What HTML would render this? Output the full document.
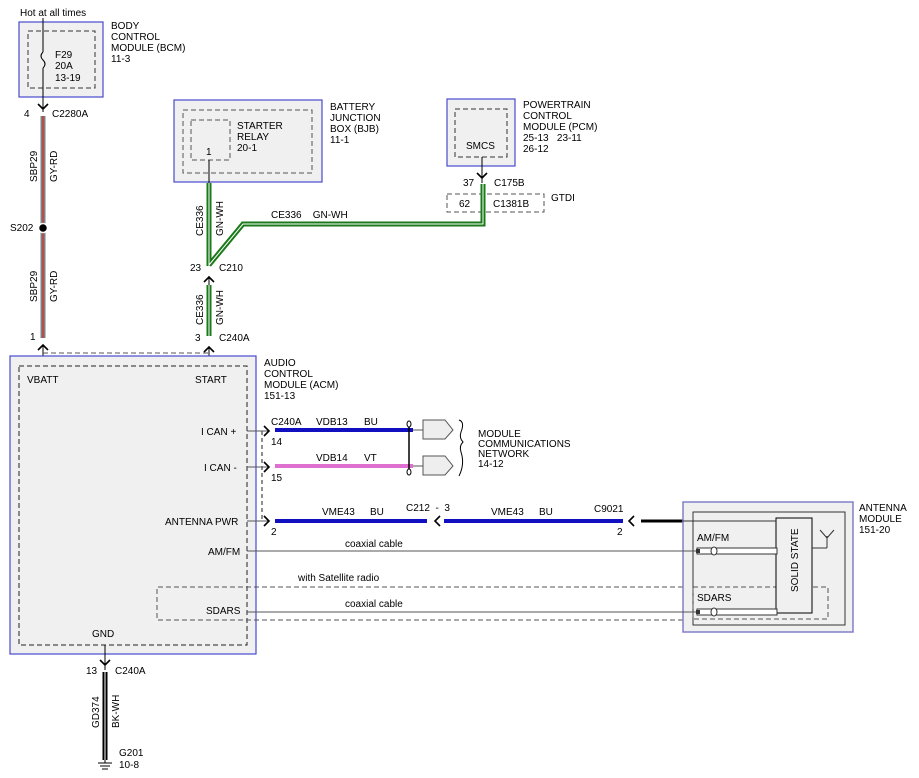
<!DOCTYPE html>
<html><head><meta charset="utf-8"><style>
html,body{margin:0;padding:0;background:#fff;}
svg{display:block;font-family:"Liberation Sans",sans-serif;font-size:10px;}
</style></head><body>
<svg width="919" height="778" viewBox="0 0 919 778" xmlns="http://www.w3.org/2000/svg">
<defs>
<g id="up"><path d="M-5,4 L0,-1 L5,4" fill="none" stroke="#000" stroke-width="1.6"/></g>
<g id="dn"><path d="M-5,-4 L0,1 L5,-4" fill="none" stroke="#000" stroke-width="1.6"/></g>
<g id="rt"><path d="M-4,-5 L1,0 L-4,5" fill="none" stroke="#000" stroke-width="1.6"/></g>
<g id="lt"><path d="M4,-5 L-1,0 L4,5" fill="none" stroke="#000" stroke-width="1.6"/></g>
</defs>

<!-- BCM -->
<text x="20" y="16">Hot at all times</text>
<rect x="19" y="22" width="84" height="75" fill="#f0f0f0" stroke="#4a4ad0" stroke-width="1.2"/>
<rect x="28" y="31" width="67" height="57" fill="none" stroke="#333" stroke-dasharray="5,3"/>
<line x1="43" y1="18" x2="43" y2="52" stroke="#000"/>
<path d="M43,52 q-4,4 0,8 q4,4 0,8" fill="none" stroke="#000"/>
<line x1="43" y1="68" x2="43" y2="112" stroke="#000"/>
<text x="55" y="58">F29</text><text x="55" y="69">20A</text><text x="55" y="81">13-19</text>
<text x="111" y="29">BODY</text><text x="111" y="40">CONTROL</text><text x="111" y="51">MODULE (BCM)</text><text x="111" y="62">11-3</text>
<use href="#dn" x="43" y="108"/>
<text x="24" y="117">4</text><text x="52" y="117">C2280A</text>
<line x1="43" y1="116" x2="43" y2="338" stroke="#808080" stroke-width="5"/>
<line x1="43" y1="116" x2="43" y2="338" stroke="#d03030" stroke-width="1.2"/>
<circle cx="43" cy="228" r="4.5" fill="#000" stroke="#fff" stroke-width="1.5"/>
<text x="10" y="231">S202</text>
<text transform="translate(37,182) rotate(-90)">SBP29</text>
<text transform="translate(57,182) rotate(-90)">GY-RD</text>
<text transform="translate(37,302) rotate(-90)">SBP29</text>
<text transform="translate(57,302) rotate(-90)">GY-RD</text>
<text x="30" y="340">1</text>
<use href="#up" x="43" y="346"/>
<line x1="43" y1="345" x2="43" y2="366" stroke="#000"/>

<!-- BJB -->
<rect x="174" y="100" width="148" height="82" fill="#f0f0f0" stroke="#4a4ad0" stroke-width="1.2"/>
<rect x="183" y="110" width="129" height="63" fill="none" stroke="#555" stroke-dasharray="5,3"/>
<rect x="191" y="120" width="39" height="40" fill="none" stroke="#555" stroke-dasharray="5,3"/>
<text x="237" y="129">STARTER</text><text x="237" y="140">RELAY</text><text x="237" y="151">20-1</text>
<text x="206" y="155">1</text>
<text x="330" y="110">BATTERY</text><text x="330" y="121">JUNCTION</text><text x="330" y="132">BOX (BJB)</text><text x="330" y="143">11-1</text>
<line x1="209" y1="160" x2="209" y2="183" stroke="#000"/>

<!-- PCM -->
<rect x="447" y="99" width="68" height="67" fill="#f0f0f0" stroke="#4a4ad0" stroke-width="1.2"/>
<rect x="455" y="109" width="52" height="48" fill="none" stroke="#333" stroke-dasharray="5,3"/>
<text x="466" y="149">SMCS</text>
<text x="523" y="108">POWERTRAIN</text><text x="523" y="119">CONTROL</text><text x="523" y="130">MODULE (PCM)</text>
<text x="523" y="141">25-13&#160;&#160;&#160;23-11</text><text x="523" y="152">26-12</text>
<line x1="482" y1="157" x2="482" y2="183" stroke="#000"/>
<use href="#dn" x="482" y="177"/>
<text x="463" y="186">37</text><text x="494" y="186">C175B</text>
<rect x="447" y="194" width="97" height="18" fill="none" stroke="#555" stroke-dasharray="5,3"/>
<text x="459" y="207">62</text><text x="493" y="207">C1381B</text><text x="551" y="201">GTDI</text>

<!-- green wires -->
<g fill="none" stroke-linejoin="miter">
<path d="M209,183 L209,266 M209,265 L243,224 L483,224 L483,184" stroke="#1a7a1a" stroke-width="5"/>
<path d="M209,183 L209,266 M209,265 L243,224 L483,224 L483,184" stroke="#fff" stroke-width="1"/>
<path d="M209,285 L209,336" stroke="#1a7a1a" stroke-width="5"/>
<path d="M209,285 L209,336" stroke="#fff" stroke-width="1"/>
</g>
<text x="271" y="218">CE336&#160;&#160;&#160;&#160;GN-WH</text>
<text transform="translate(203,236) rotate(-90)">CE336</text>
<text transform="translate(223,236) rotate(-90)">GN-WH</text>
<text transform="translate(203,325) rotate(-90)">CE336</text>
<text transform="translate(223,325) rotate(-90)">GN-WH</text>
<text x="190" y="271">23</text><text x="219" y="271">C210</text>
<use href="#up" x="209" y="278"/>
<line x1="209" y1="276" x2="209" y2="285" stroke="#000"/>
<text x="195" y="341">3</text><text x="219" y="341">C240A</text>
<use href="#up" x="209" y="348"/>
<line x1="209" y1="347" x2="209" y2="366" stroke="#000"/>
<line x1="43" y1="353" x2="209" y2="353" stroke="#555" stroke-dasharray="5,3"/>

<!-- ACM -->
<rect x="10" y="356" width="246" height="298" fill="#f0f0f0" stroke="#4a4ad0" stroke-width="1.2"/>
<rect x="19" y="366" width="228" height="279" fill="none" stroke="#222" stroke-dasharray="5,3"/>
<text x="27" y="383">VBATT</text><text x="195" y="383">START</text>
<text x="264" y="366">AUDIO</text><text x="264" y="377">CONTROL</text><text x="264" y="388">MODULE (ACM)</text><text x="264" y="399">151-13</text>
<text x="201" y="435">I CAN +</text>
<text x="204" y="471">I CAN -</text>
<text x="165" y="525">ANTENNA PWR</text>
<text x="208" y="555">AM/FM</text>
<text x="206" y="614">SDARS</text>
<text x="92" y="637">GND</text>
<line x1="262" y1="431" x2="262" y2="522" stroke="#222" stroke-dasharray="4,3"/>
<path d="M683,587 L157,587 L157,620 L683,620" fill="none" stroke="#555" stroke-dasharray="5,3"/>
<text x="298" y="581">with Satellite radio</text>

<!-- CAN wires -->
<line x1="247" y1="431" x2="268" y2="431" stroke="#555"/>
<use href="#rt" x="268" y="431"/>
<line x1="275" y1="430" x2="413" y2="430" stroke="#1010c0" stroke-width="4"/>
<text x="271" y="425">C240A</text><text x="316" y="425">VDB13</text><text x="364" y="425">BU</text>
<text x="271" y="445">14</text>
<line x1="247" y1="467" x2="268" y2="467" stroke="#555"/>
<use href="#rt" x="268" y="467"/>
<line x1="275" y1="466" x2="413" y2="466" stroke="#e070d0" stroke-width="4"/>
<text x="316" y="461">VDB14</text><text x="364" y="461">VT</text>
<text x="271" y="481">15</text>
<line x1="409" y1="426" x2="409" y2="471" stroke="#000" stroke-width="1.5"/>
<ellipse cx="409" cy="424" rx="2" ry="3" fill="#fff" stroke="#000"/>
<ellipse cx="409" cy="472" rx="2" ry="3" fill="#fff" stroke="#000"/>
<line x1="413" y1="430" x2="423" y2="430" stroke="#555"/>
<line x1="413" y1="466" x2="423" y2="466" stroke="#555"/>
<path d="M423,420 L445,420 L453,430 L445,439 L423,439 Z" fill="#eee" stroke="#555"/>
<path d="M423,456 L445,456 L453,466 L445,475 L423,475 Z" fill="#eee" stroke="#555"/>
<path d="M459,420 q6,2 2,12 q-2,6 2,10 q-4,4 -2,10 q4,12 -2,24" fill="none" stroke="#000"/>
<text x="478" y="437">MODULE</text><text x="478" y="447">COMMUNICATIONS</text><text x="478" y="457">NETWORK</text><text x="478" y="467">14-12</text>

<!-- antenna pwr -->
<line x1="247" y1="521" x2="268" y2="521" stroke="#555"/>
<use href="#rt" x="268" y="521"/>
<line x1="275" y1="521" x2="427" y2="521" stroke="#1010c0" stroke-width="4"/>
<use href="#lt" x="436" y="521"/>
<line x1="444" y1="521" x2="623" y2="521" stroke="#1010c0" stroke-width="4"/>
<use href="#lt" x="630" y="521"/>
<line x1="641" y1="521" x2="683" y2="521" stroke="#000" stroke-width="3"/>
<text x="322" y="515">VME43</text><text x="370" y="515">BU</text>
<text x="406" y="511">C212&#160;&#160;-&#160;&#160;3</text>
<text x="491" y="515">VME43</text><text x="539" y="515">BU</text>
<text x="594" y="512">C9021</text>
<text x="271" y="535">2</text><text x="617" y="535">2</text>
<line x1="247" y1="551" x2="672" y2="551" stroke="#555"/>
<text x="345" y="547">coaxial cable</text>
<line x1="247" y1="612" x2="672" y2="612" stroke="#555"/>
<text x="345" y="607">coaxial cable</text>

<!-- antenna module -->
<rect x="683" y="502" width="170" height="130" fill="#f0f0f0" stroke="#8080c8" stroke-width="1.5"/>
<rect x="693" y="512" width="152" height="113" fill="none" stroke="#333"/>
<rect x="693" y="587" width="135" height="32" fill="none" stroke="#555" stroke-dasharray="5,3"/>
<rect x="776" y="518" width="36" height="95" fill="#f0f0f0" stroke="#000"/>
<line x1="683" y1="521" x2="776" y2="521" stroke="#333"/>
<text transform="translate(798,592) rotate(-90)">SOLID STATE</text>
<line x1="812" y1="548" x2="827" y2="548" stroke="#333"/>
<line x1="827" y1="548" x2="827" y2="536" stroke="#333"/>
<path d="M820,530 L827,538 L834,530" fill="none" stroke="#333"/>
<text x="697" y="541">AM/FM</text>
<line x1="672" y1="551" x2="697" y2="551" stroke="#555"/>
<rect x="697" y="548" width="80" height="6" fill="#fff" stroke="#333"/>
<ellipse cx="714" cy="551" rx="3" ry="4" fill="#fff" stroke="#333"/>
<rect x="696" y="549" width="4" height="4" fill="#333"/>
<text x="697" y="601">SDARS</text>
<line x1="672" y1="612" x2="697" y2="612" stroke="#555"/>
<rect x="697" y="609" width="80" height="6" fill="#fff" stroke="#333"/>
<ellipse cx="714" cy="612" rx="3" ry="4" fill="#fff" stroke="#333"/>
<rect x="696" y="610" width="4" height="4" fill="#333"/>
<text x="859" y="511">ANTENNA</text><text x="859" y="522">MODULE</text><text x="859" y="533">151-20</text>

<!-- GND -->
<line x1="105" y1="645" x2="105" y2="670" stroke="#000"/>
<use href="#dn" x="105" y="664"/>
<text x="86" y="674">13</text><text x="115" y="674">C240A</text>
<line x1="105" y1="672" x2="105" y2="760" stroke="#000" stroke-width="5"/>
<line x1="105" y1="672" x2="105" y2="760" stroke="#fff" stroke-width="1"/>
<text transform="translate(99,728) rotate(-90)">GD374</text>
<text transform="translate(119,728) rotate(-90)">BK-WH</text>
<line x1="105" y1="760" x2="105" y2="763" stroke="#000"/>
<line x1="98" y1="763" x2="112" y2="763" stroke="#000"/>
<line x1="100" y1="766" x2="110" y2="766" stroke="#000"/>
<line x1="102" y1="769" x2="108" y2="769" stroke="#000"/>
<text x="119" y="756">G201</text><text x="119" y="768">10-8</text>
</svg>
</body></html>
